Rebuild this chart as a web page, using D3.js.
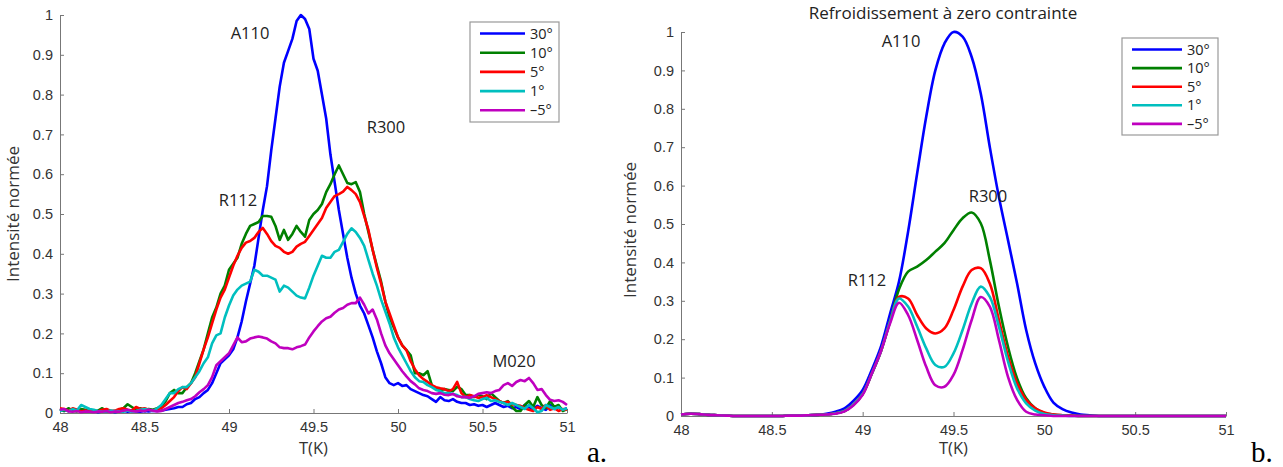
<!DOCTYPE html>
<html lang="fr">
<head>
<meta charset="UTF-8">
<title>Intensité normée vs T(K)</title>
<script src="https://d3js.org/d3.v7.min.js"></script>
<style>
  body { margin: 0; background: #fff; }
  svg { display: block; font-family: "Open Sans", sans-serif; }
  .tick text { fill: #333; }
</style>
</head>
<body>
<svg id="chart" width="1283" height="467"></svg>
<script>
// ---- data ----
const seriesNames = ["30°", "10°", "5°", "1°", "–5°"];
const seriesColors = ["#0000ff", "#008000", "#ff0000", "#00bfbf", "#bf00bf"];
const xTicks = [48, 48.5, 49, 49.5, 50, 50.5, 51];
const yTicks = [0, 0.1, 0.2, 0.3, 0.4, 0.5, 0.6, 0.7, 0.8, 0.9, 1];

// panel a: measured, one sample every 0.025 K from 48 to 51
const stepA = 0.025;
const a30 = [0.01,0.005,0.01,0.005,0.008,0.004,0.006,0.003,0.005,0.002,0.004,0.003,0.005,0.002,0.004,0.006,0.003,0.005,0.004,0.003,0.005,0.004,0.006,0.005,
  0.006,0.008,0.01,0.012,0.015,0.015,0.022,0.025,0.035,0.04,0.05,0.058,0.075,0.1,0.125,0.135,
  0.145,0.16,0.19,0.23,0.28,0.325,0.37,0.44,0.51,0.57,0.66,0.74,0.82,0.88,0.91,0.94,
  0.985,1.0,0.99,0.965,0.89,0.86,0.8,0.74,0.65,0.58,0.51,0.45,0.39,0.34,0.3,0.27,
  0.25,0.22,0.19,0.155,0.125,0.09,0.075,0.07,0.075,0.068,0.07,0.06,0.055,0.05,0.045,0.042,
  0.035,0.028,0.04,0.032,0.03,0.035,0.028,0.025,0.025,0.02,0.022,0.018,0.02,0.015,0.02,0.025,
  0.02,0.015,0.018,0.012,0.015,0.01,0.02,0.015,0.01,0.018,0.012,0.008,0.02,0.01,0.015,0.008,0.012];
const a10 = [0.01,0.005,0.012,0.006,0.004,0.01,0.008,0.004,0.003,0.006,0.012,0.004,0.005,0.003,0.008,0.012,0.022,0.015,0.008,0.012,0.006,0.01,0.008,0.012,
  0.015,0.03,0.05,0.058,0.05,0.05,0.065,0.075,0.1,0.13,0.16,0.2,0.24,0.265,0.3,0.32,
  0.36,0.375,0.39,0.425,0.45,0.47,0.475,0.48,0.495,0.495,0.493,0.47,0.435,0.46,0.435,0.45,
  0.47,0.455,0.443,0.485,0.5,0.51,0.525,0.555,0.575,0.6,0.622,0.6,0.578,0.575,0.58,0.555,
  0.5,0.455,0.41,0.37,0.33,0.28,0.24,0.215,0.19,0.17,0.158,0.145,0.1,0.1,0.095,0.105,
  0.07,0.06,0.058,0.06,0.058,0.055,0.066,0.06,0.045,0.045,0.04,0.045,0.042,0.035,0.05,0.04,
  0.03,0.025,0.03,0.015,0.005,0.005,0.02,0.03,0.015,0.04,0.02,0.012,0.03,0.015,0.02,0.005,0.01];
const a5 = [0.012,0.01,0.005,0.012,0.008,0.004,0.006,0.005,0.003,0.004,0.008,0.01,0.005,0.006,0.01,0.012,0.008,0.006,0.015,0.01,0.012,0.008,0.006,0.01,
  0.012,0.02,0.03,0.04,0.055,0.065,0.06,0.075,0.09,0.125,0.16,0.19,0.225,0.26,0.29,0.31,
  0.34,0.37,0.395,0.415,0.428,0.432,0.44,0.455,0.465,0.45,0.432,0.42,0.415,0.405,0.4,0.405,
  0.418,0.425,0.43,0.445,0.46,0.475,0.49,0.515,0.53,0.545,0.55,0.556,0.568,0.56,0.55,0.53,
  0.495,0.46,0.41,0.365,0.325,0.28,0.25,0.22,0.19,0.17,0.158,0.13,0.11,0.095,0.085,0.078,
  0.07,0.065,0.062,0.06,0.055,0.06,0.078,0.05,0.04,0.045,0.042,0.038,0.04,0.045,0.04,0.035,
  0.03,0.025,0.028,0.022,0.02,0.018,0.012,0.008,0.005,0.015,0.01,0.02,0.008,0.012,0.005,0.01,0.008];
const a1 = [0.005,0.008,0.004,0.01,0.006,0.02,0.015,0.01,0.008,0.005,0.003,0.004,0.006,0.005,0.004,0.003,0.006,0.004,0.005,0.008,0.01,0.008,0.005,0.012,
  0.02,0.035,0.05,0.05,0.06,0.065,0.065,0.075,0.09,0.105,0.125,0.14,0.175,0.195,0.2,0.24,
  0.27,0.295,0.31,0.32,0.325,0.33,0.36,0.355,0.345,0.345,0.34,0.335,0.305,0.32,0.315,0.305,
  0.295,0.29,0.288,0.315,0.345,0.37,0.395,0.39,0.39,0.405,0.41,0.43,0.45,0.464,0.455,0.44,
  0.42,0.385,0.35,0.32,0.285,0.255,0.225,0.19,0.165,0.145,0.125,0.105,0.09,0.08,0.078,0.07,
  0.065,0.058,0.055,0.05,0.05,0.048,0.045,0.04,0.04,0.035,0.032,0.03,0.035,0.038,0.03,0.032,
  0.028,0.025,0.02,0.025,0.02,0.015,0.01,0.02,0.012,0.002,0.005,0.02,0.015,0.01,0.015,0.008,0.012];
const aM5 = [0.008,0.01,0.004,0.003,0.005,0.002,0.004,0.003,0.002,0.004,0.003,0.005,0.002,0.004,0.003,0.006,0.008,0.005,0.004,0.006,0.005,0.008,0.006,0.004,
  0.005,0.01,0.015,0.02,0.025,0.028,0.032,0.035,0.042,0.052,0.06,0.07,0.09,0.12,0.13,0.14,
  0.15,0.17,0.19,0.178,0.18,0.187,0.19,0.192,0.19,0.187,0.18,0.175,0.165,0.163,0.163,0.16,
  0.165,0.168,0.172,0.19,0.205,0.218,0.23,0.238,0.242,0.252,0.26,0.264,0.272,0.276,0.276,0.29,
  0.272,0.25,0.26,0.235,0.2,0.17,0.15,0.135,0.12,0.105,0.092,0.08,0.072,0.062,0.058,0.055,
  0.05,0.048,0.05,0.046,0.045,0.048,0.042,0.04,0.04,0.038,0.042,0.048,0.05,0.052,0.05,0.055,
  0.058,0.07,0.075,0.068,0.078,0.083,0.08,0.088,0.075,0.058,0.06,0.045,0.033,0.03,0.032,0.028,0.02];

// panel b: simulated, one sample every 0.05 K from 48 to 51
const stepB = 0.05;
const b30 = [0.004,0.006,0.005,0.003,0.002,0.001,0,0,0,0,0,0,0.001,0.001,0.002,0.003,
  0.006,0.011,0.02,0.04,0.068,0.12,0.18,0.265,0.35,0.48,0.632,0.78,0.9,0.97,1.0,
  0.988,0.935,0.84,0.70,0.57,0.458,0.345,0.224,0.137,0.076,0.035,0.018,0.009,0.004,0.002,
  0,0,0,0,0,0,0,0,0,0,0,0,0,0,0];
const b10 = [0.004,0.006,0.005,0.003,0.002,0.001,0,0,0,0,0,0,0.001,0.001,0.002,0.003,
  0.004,0.007,0.013,0.03,0.057,0.11,0.168,0.245,0.33,
  0.376,0.389,0.406,0.428,0.45,0.484,0.515,0.53,0.502,0.406,0.285,0.18,0.098,0.046,0.02,0.008,0.004,0.002,0.001,0,0,
  0,0,0,0,0,0,0,0,0,0,0,0,0,0,0];
const b5 = [0.004,0.006,0.005,0.003,0.002,0.001,0,0,0,0,0,0,0.001,0.001,0.002,0.003,
  0.004,0.007,0.013,0.03,0.057,0.11,0.168,0.245,0.31,
  0.306,0.263,0.228,0.215,0.228,0.276,0.337,0.38,0.385,0.345,0.25,0.155,0.085,0.042,0.02,0.009,0.004,0.002,0.001,0,0,
  0,0,0,0,0,0,0,0,0,0,0,0,0,0,0];
const b1 = [0.004,0.006,0.005,0.003,0.002,0.001,0,0,0,0,0,0,0.001,0.001,0.002,0.003,
  0.004,0.007,0.013,0.03,0.057,0.11,0.168,0.245,0.306,
  0.285,0.233,0.176,0.133,0.128,0.163,0.224,0.293,0.337,0.31,0.233,0.142,0.072,0.033,0.014,0.005,0.002,0.001,0,0,0,
  0,0,0,0,0,0,0,0,0,0,0,0,0,0,0];
const bM5 = [0.004,0.006,0.005,0.003,0.002,0.001,0,0,0,0,0,0,0.001,0.001,0.002,0.003,
  0.004,0.006,0.012,0.028,0.055,0.11,0.168,0.24,0.295,
  0.263,0.198,0.128,0.08,0.076,0.107,0.172,0.25,0.31,0.285,0.198,0.102,0.042,0.011,0.004,0.002,0,0,0,0,0,
  0,0,0,0,0,0,0,0,0,0,0,0,0,0,0];

const svg = d3.select("#chart");

function drawPanel(cfg) {
  const x = d3.scaleLinear().domain([48, 51]).range([cfg.left, cfg.right]);
  const y = d3.scaleLinear().domain([0, 1]).range([cfg.bottom, cfg.top]);
  const g = svg.append("g");

  // axes, ticks pointing inward like matlab
  const xAxis = g.append("g")
    .attr("transform", `translate(0,${cfg.bottom})`)
    .call(d3.axisBottom(x).tickValues(xTicks).tickFormat(d3.format("")).tickSizeInner(-4).tickSizeOuter(0).tickPadding(9));
  const yAxis = g.append("g")
    .attr("transform", `translate(${cfg.left},0)`)
    .call(d3.axisLeft(y).tickValues(yTicks).tickFormat(d3.format("")).tickSizeInner(-4).tickSizeOuter(0).tickPadding(7));
  [xAxis, yAxis].forEach(a => {
    a.select(".domain").attr("stroke", "#777");
    a.selectAll(".tick line").attr("stroke", "#777");
    a.selectAll(".tick text").attr("font-size", 14.5).attr("fill", "#333");
  });

  const line = d3.line()
    .x((d, i) => x(48 + i * cfg.step))
    .y(d => y(d))
    .curve(cfg.curve);

  g.selectAll("path.curve")
    .data(cfg.series)
    .join("path")
    .attr("class", "curve")
    .attr("d", d => line(d))
    .attr("fill", "none")
    .attr("stroke", (d, i) => seriesColors[i])
    .attr("stroke-width", 2.6)
    .attr("stroke-linejoin", "round");

  // axis titles
  g.append("text")
    .attr("x", (cfg.left + cfg.right) / 2).attr("y", 454)
    .attr("text-anchor", "middle").attr("font-size", 16.5).attr("fill", "#333")
    .text("T(K)");
  g.append("text")
    .attr("transform", `translate(${cfg.ylabX},${cfg.ylabY}) rotate(-90)`)
    .attr("text-anchor", "middle").attr("font-size", 17).attr("fill", "#333")
    .text("Intensité normée");

  // peak labels
  cfg.labels.forEach(l => {
    g.append("text")
      .attr("x", l.x).attr("y", l.y).attr("dy", "0.35em")
      .attr("text-anchor", "middle").attr("font-size", 16.5).attr("fill", "#222")
      .text(l.t);
  });

  // legend
  const lg = g.append("g");
  lg.append("rect")
    .attr("x", cfg.legend.x).attr("y", cfg.legend.y)
    .attr("width", cfg.legend.w).attr("height", cfg.legend.h)
    .attr("fill", "#fff").attr("stroke", "#999").attr("stroke-width", 1.2);
  seriesNames.forEach((name, i) => {
    const yy = cfg.legend.y + 11.5 + i * cfg.legend.dy;
    lg.append("line")
      .attr("x1", cfg.legend.x + 10).attr("x2", cfg.legend.x + 10 + cfg.legend.len)
      .attr("y1", yy).attr("y2", yy)
      .attr("stroke", seriesColors[i]).attr("stroke-width", 2.6);
    lg.append("text")
      .attr("x", cfg.legend.x + 15 + cfg.legend.len).attr("y", yy).attr("dy", "0.35em")
      .attr("font-size", 14.5).attr("fill", "#222")
      .text(name);
  });

  // panel letter
  g.append("text")
    .attr("x", cfg.letterX).attr("y", 462)
    .attr("font-family", "'Liberation Serif', serif").attr("font-size", 29).attr("fill", "#000")
    .text(cfg.letter);
}

drawPanel({
  left: 60, right: 567, top: 15, bottom: 413, step: stepA,
  series: [a30, a10, a5, a1, aM5],
  curve: d3.curveLinear,
  ylabX: 19, ylabY: 214,
  labels: [
    { t: "A110", x: 250, y: 33 },
    { t: "R112", x: 238, y: 200 },
    { t: "R300", x: 386, y: 127 },
    { t: "M020", x: 514, y: 361 }
  ],
  legend: { x: 470, y: 22, w: 89, h: 100, dy: 19.2, len: 45 },
  letter: "a.", letterX: 587
});

drawPanel({
  left: 681, right: 1226, top: 32, bottom: 416, step: stepB,
  series: [b30, b10, b5, b1, bM5],
  curve: d3.curveCatmullRom.alpha(0.5),
  ylabX: 636, ylabY: 230,
  labels: [
    { t: "A110", x: 901, y: 41 },
    { t: "R112", x: 867, y: 280 },
    { t: "R300", x: 988, y: 196 }
  ],
  legend: { x: 1122, y: 38, w: 96, h: 97, dy: 18.6, len: 50 },
  letter: "b.", letterX: 1251
});

svg.append("text")
  .attr("x", 943).attr("y", 13).attr("dy", "0.35em")
  .attr("text-anchor", "middle").attr("font-size", 17).attr("fill", "#222")
  .text("Refroidissement à zero contrainte");
</script>
</body>
</html>
